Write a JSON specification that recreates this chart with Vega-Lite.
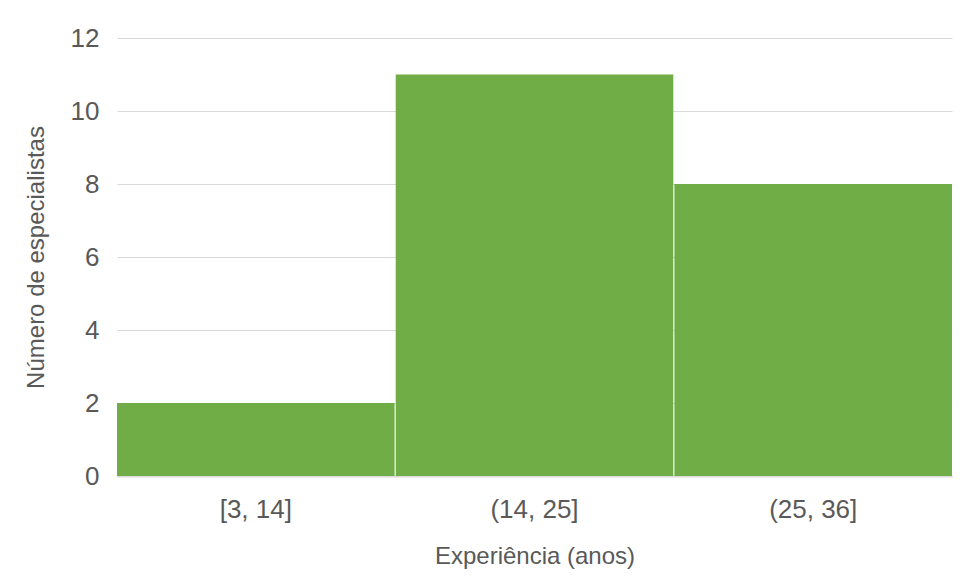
{
  "$schema": "https://vega.github.io/schema/vega-lite/v6.json",
  "autosize": {"type": "none"},
  "width": 835,
  "height": 438,
  "padding": {"left": 117, "top": 38, "right": 8, "bottom": 105},
  "background": "white",
  "config": {
    "view": {"stroke": null},
    "font": "Liberation Sans",
    "axis": {
      "labelFont": "Liberation Sans",
      "titleFont": "Liberation Sans",
      "labelColor": "#595959",
      "titleColor": "#595959",
      "titleFontWeight": "normal",
      "ticks": false,
      "gridColor": "#D9D9D9",
      "gridWidth": 1,
      "domainColor": "#D9D9D9"
    }
  },
  "data": {
    "values": [
      {"faixa": "[3, 14]", "especialistas": 2},
      {"faixa": "(14, 25]", "especialistas": 11},
      {"faixa": "(25, 36]", "especialistas": 8}
    ]
  },
  "mark": {"type": "bar", "color": "#70AD47"},
  "encoding": {
    "x": {
      "field": "faixa",
      "type": "ordinal",
      "sort": null,
      "scale": {"paddingInner": 0.004, "paddingOuter": 0},
      "axis": {
        "title": "Experiência (anos)",
        "labelAngle": 0,
        "labelFontSize": 26,
        "labelPadding": 20,
        "titleFontSize": 24,
        "titlePadding": 22,
        "domainWidth": 2
      }
    },
    "y": {
      "field": "especialistas",
      "type": "quantitative",
      "scale": {"domain": [0, 12], "nice": false},
      "axis": {
        "title": "Número de especialistas",
        "values": [0, 2, 4, 6, 8, 10, 12],
        "domain": false,
        "labelFontSize": 26,
        "labelPadding": 18,
        "titleFontSize": 24,
        "titlePadding": 22
      }
    }
  }
}
